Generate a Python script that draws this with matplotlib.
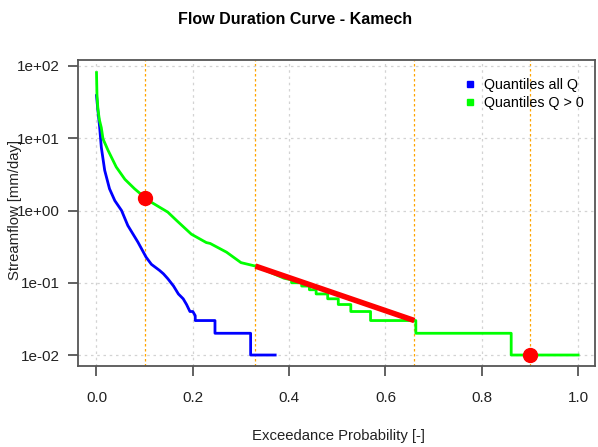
import matplotlib
matplotlib.use("Agg")
import matplotlib.pyplot as plt
import numpy as np

plt.rcParams['font.family'] = ['Liberation Sans', 'DejaVu Sans']

# quantiles of all Q (blue)
p_all = [0.0, 0.0, 0.003, 0.0066, 0.010, 0.017, 0.027, 0.038, 0.052, 0.065, 0.086,
         0.103, 0.114, 0.131, 0.139, 0.148, 0.160, 0.170, 0.180, 0.187, 0.194,
         0.200, 0.205, 0.205, 0.246, 0.246, 0.320, 0.320, 0.371]
q_all = [39, 39, 24, 14, 7.5, 3.6, 2.0, 1.37, 1.0, 0.62, 0.365,
         0.226, 0.18, 0.148, 0.133, 0.114, 0.09, 0.07, 0.06, 0.05, 0.04,
         0.04, 0.035, 0.03, 0.03, 0.02, 0.02, 0.01, 0.01]

# quantiles of Q > 0 (green)
p_pos = [0.0, 0.001, 0.003, 0.006, 0.010, 0.0135, 0.024, 0.041, 0.059, 0.079,
         0.101, 0.114, 0.132, 0.148, 0.167, 0.197, 0.228, 0.236, 0.270, 0.300,
         0.330, 0.360, 0.390, 0.405, 0.405, 0.426, 0.426, 0.442, 0.442, 0.456,
         0.456, 0.480, 0.480, 0.502, 0.502, 0.528, 0.528, 0.569, 0.569, 0.663,
         0.663, 0.861, 0.861, 1.0]
q_pos = [81, 40, 25, 18, 14, 9.8, 6.8, 4.0, 2.7, 2.0,
         1.5, 1.3, 1.1, 0.95, 0.72, 0.47, 0.36, 0.35, 0.265, 0.19,
         0.17, 0.14, 0.115, 0.11, 0.10, 0.10, 0.09, 0.09, 0.08, 0.08,
         0.07, 0.07, 0.06, 0.06, 0.05, 0.05, 0.04, 0.04, 0.03, 0.03,
         0.02, 0.02, 0.01, 0.01]

# signature points / mid-segment slope
pts_p = [0.1, 0.9]
pts_q = [1.5, 0.01]
mid_p = [0.33, 0.66]
mid_q = [0.17, 0.03]
vlines = [0.1, 0.33, 0.66, 0.9]

fig = plt.figure(figsize=(5.98, 4.47), dpi=100)
ax = fig.add_axes([78/598, 1 - 366/447, (595 - 78)/598, (366 - 60)/447])

ax.set_yscale('log')
ax.set_xlim(-0.0384, 1.035)
ax.set_ylim(10**-2.152, 10**2.083)

for v in vlines:
    ax.axvline(v, color='#FFA500', lw=0.9, ls=(0, (2, 2)), zorder=1)

ax.plot(p_all, q_all, color='#0000FF', lw=2, zorder=3)
ax.plot(p_pos, q_pos, color='#00FF00', lw=2, zorder=3)
ax.plot(mid_p, mid_q, color='#FF0000', lw=4, solid_capstyle='butt', zorder=4)
ax.plot(pts_p, pts_q, 'o', color='#FF0000', ms=10, zorder=5)

ax.set_xticks([0, 0.2, 0.4, 0.6, 0.8, 1.0])
ax.set_xticklabels(['0.0', '0.2', '0.4', '0.6', '0.8', '1.0'])
ax.set_yticks([1e-2, 1e-1, 1e0, 1e1, 1e2])
ax.set_yticklabels(['1e-02', '1e-01', '1e+00', '1e+01', '1e+02'])
ax.minorticks_off()
ax.grid(True, color='#D3D3D3', ls=(0, (2, 3)), lw=0.9, zorder=0)

ax.tick_params(direction='out', length=7, width=1.3, color='#555555',
               labelsize=11, labelcolor='#222222', pad=6)
ax.tick_params(axis='x', pad=11)
for s in ax.spines.values():
    s.set_color('#555555')
    s.set_linewidth(1.3)

fig.text(295/598, 1 - 20/447, 'Flow Duration Curve - Kamech', ha='center',
         va='center', fontsize=11.5, fontweight='bold', color='black')
fig.text(338/598, 1 - 436/447, 'Exceedance Probability [-]', ha='center',
         va='center', fontsize=10.7, color='#222222')
fig.text(15/598, 1 - 210/447, 'Streamflow [mm/day]', ha='center',
         va='center', rotation=90, fontsize=10.7, color='#222222')

ax.plot([], [], 's', color='#0000FF', ms=5, label='Quantiles all Q')
ax.plot([], [], 's', color='#00FF00', ms=5, label='Quantiles Q > 0')
ax.legend(loc='upper right', frameon=False, fontsize=10.3, handlelength=0.8,
          handletextpad=0.6, borderaxespad=0.4, labelspacing=0.3,
          bbox_to_anchor=(1.0, 0.98))

fig.savefig('out.png', dpi=100)
